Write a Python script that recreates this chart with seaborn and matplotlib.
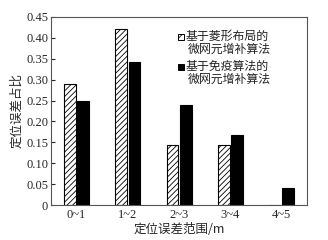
import numpy as np
import pandas as pd
import matplotlib
matplotlib.use("Agg")
import matplotlib.pyplot as plt
import seaborn as sns
from matplotlib.patches import Rectangle
from matplotlib.ticker import FuncFormatter

ranges = ["0~1", "1~2", "2~3", "3~4", "4~5"]
rhombus = [0.29, 0.42, 0.143, 0.143, 0.0]
immune = [0.25, 0.342, 0.24, 0.167, 0.042]
methods = ["基于菱形布局的\n微网元增补算法", "基于免疫算法的\n微网元增补算法"]

df = pd.DataFrame({
    "range": ranges * 2,
    "ratio": rhombus + immune,
    "method": [methods[0]] * len(ranges) + [methods[1]] * len(ranges),
})

sns.set_style("white")
plt.rcParams["font.family"] = ["Liberation Serif", "Noto Sans CJK SC"]
plt.rcParams["hatch.linewidth"] = 0.6

fig, ax = plt.subplots(figsize=(3.28, 2.4), dpi=100)
sns.barplot(data=df, x="range", y="ratio", hue="method",
            palette=["white", "black"], width=0.52, gap=0.12,
            edgecolor="black", linewidth=0.8, ax=ax, legend=False)

n = len(ranges)
for bar in ax.patches[:n]:
    bar.set_hatch("//////")

ax.set_ylim(0, 0.45)
ax.set_xlim(-0.5, n - 0.5)
ax.set_yticks(np.arange(0, 0.451, 0.05))
ax.yaxis.set_major_formatter(FuncFormatter(lambda v, p: "0" if v == 0 else f"{v:.2f}"))
ax.tick_params(axis="y", direction="in", length=3, labelsize=9, pad=2, left=True)
ax.tick_params(axis="x", length=0, labelsize=9, pad=3)
for s in ax.spines.values():
    s.set_color("#555555")
    s.set_linewidth(0.8)

cjk = ["Noto Sans CJK SC"]
ax.set_xlabel("定位误差范围/m", fontsize=9, family=cjk, labelpad=1)
ax.set_ylabel("定位误差占比", fontsize=9, family=cjk, labelpad=2)

# legend drawn by hand: marker sits beside the first line only
legend_rows = [(0.894, 0.825, dict(facecolor="white", hatch="////")),
               (0.735, 0.667, dict(facecolor="black"))]
for (y1, y2, style), label in zip(legend_rows, methods):
    first, second = label.split("\n")
    ax.add_patch(Rectangle((0.496, y1 - 0.016), 0.022, 0.032, transform=ax.transAxes,
                           edgecolor="black", linewidth=0.7, clip_on=False, **style))
    ax.text(0.527, y1, first, transform=ax.transAxes, va="center", ha="left",
            fontsize=8.6, family=cjk, color="#222222")
    ax.text(0.535, y2, second, transform=ax.transAxes, va="center", ha="left",
            fontsize=8.6, family=cjk, color="#222222")

fig.subplots_adjust(left=0.155, right=0.937, top=0.93, bottom=0.145)
fig.savefig("out.png", dpi=100)
